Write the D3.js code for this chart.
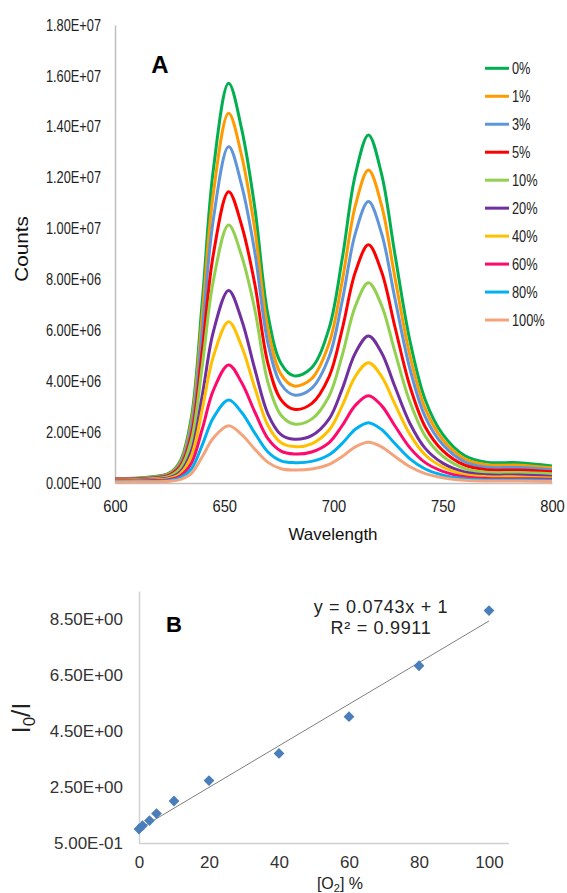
<!DOCTYPE html>
<html>
<head>
<meta charset="utf-8">
<script src="https://cdn.jsdelivr.net/npm/d3@7"></script>
<style>
  body { margin: 0; background: #fff; }
  svg { display: block; font-family: "Liberation Sans", Arial, sans-serif; }
</style>
</head>
<body>
<svg id="chart" width="567" height="893"></svg>
<script>
// ---- Panel A: emission spectra (counts in units of 1e6) ----
const wavelengths = [600, 615, 625, 630, 635, 640, 645, 652, 658, 664, 670, 676, 682, 690, 698, 704, 710, 716, 722, 728, 735, 742, 750, 760, 770, 785, 800];

const o2_0   = [.18, .23, .40, .89, 2.60, 7.20, 12.31, 15.71, 13.90, 10.81, 6.61, 4.70, 4.21, 4.53, 6.09, 8.82, 12.12, 13.68, 12.14, 9.05, 5.58, 3.26, 1.91, 1.08, .82, .80, .67];
const o2_1   = [.17, .21, .37, .83, 2.41, 6.66, 11.38, 14.53, 12.85, 9.96, 6.05, 4.27, 3.81, 4.10, 5.49, 7.94, 10.90, 12.30, 10.91, 8.13, 5.00, 2.92, 1.70, .95, .72, .70, .60];
const o2_3   = [.16, .20, .34, .76, 2.20, 6.06, 10.36, 13.22, 11.69, 9.06, 5.50, 3.88, 3.46, 3.72, 4.96, 7.16, 9.81, 11.06, 9.81, 7.30, 4.48, 2.60, 1.51, .83, .62, .61, .52];
const o2_5   = [.15, .18, .31, .67, 1.91, 5.26, 8.98, 11.45, 10.11, 7.81, 4.69, 3.27, 2.90, 3.12, 4.18, 6.05, 8.29, 9.36, 8.30, 6.18, 3.79, 2.20, 1.27, .70, .52, .51, .44];
const o2_10  = [.13, .16, .27, .59, 1.69, 4.65, 7.95, 10.14, 8.91, 6.81, 3.95, 2.66, 2.32, 2.51, 3.42, 5.02, 6.95, 7.87, 6.98, 5.19, 3.18, 1.84, 1.05, .57, .42, .41, .36];
const o2_20  = [.11, .13, .21, .45, 1.27, 3.48, 5.94, 7.57, 6.40, 4.47, 2.71, 1.90, 1.72, 1.86, 2.52, 3.70, 5.11, 5.78, 5.12, 3.81, 2.34, 1.36, .78, .43, .32, .31, .26];
const o2_40  = [.09, .11, .18, .38, 1.07, 2.92, 4.97, 6.34, 5.36, 3.74, 2.26, 1.58, 1.43, 1.54, 2.08, 3.04, 4.19, 4.73, 4.19, 3.12, 1.91, 1.10, .63, .34, .25, .24, .20];
const o2_60  = [.08, .09, .14, .29, .79, 2.14, 3.64, 4.64, 3.94, 2.79, 1.74, 1.25, 1.14, 1.22, 1.59, 2.26, 3.05, 3.43, 3.04, 2.26, 1.38, .80, .46, .25, .18, .17, .15];
const o2_80  = [.06, .07, .10, .21, .56, 1.51, 2.56, 3.26, 2.77, 1.96, 1.22, .87, .80, .85, 1.11, 1.56, 2.11, 2.37, 2.10, 1.56, .95, .55, .31, .17, .12, .12, .10];
const o2_100 = [.04, .05, .07, .14, .38, 1.04, 1.77, 2.25, 1.90, 1.33, .81, .56, .51, .55, .73, 1.04, 1.42, 1.60, 1.42, 1.05, .64, .37, .21, .11, .08, .08, .06];

const seriesLabels = ["0%", "1%", "3%", "5%", "10%", "20%", "40%", "60%", "80%", "100%"];
const seriesColors = ["#00B050", "#FF9A00", "#5F95DA", "#FF0000", "#92D050", "#7030A0", "#FFC000", "#FF0A6C", "#00B0F0", "#F4A47C"];
const seriesValues = [o2_0, o2_1, o2_3, o2_5, o2_10, o2_20, o2_40, o2_60, o2_80, o2_100];

const waveTicks = [600, 650, 700, 750, 800];
const countTicks = [0, 2e6, 4e6, 6e6, 8e6, 1e7, 1.2e7, 1.4e7, 1.6e7, 1.8e7];

// ---- Panel B: Stern-Volmer plot ----
const o2Percent = [0, 1, 3, 5, 10, 20, 40, 60, 80, 100];
const intensityRatio = [1.0, 1.12, 1.3, 1.55, 2.0, 2.73, 3.7, 5.01, 6.83, 8.8];
const fitSlope = 0.0743, fitIntercept = 1;
const o2Ticks = [0, 20, 40, 60, 80, 100];
const ratioTicks = [0.5, 2.5, 4.5, 6.5, 8.5];

// Excel style scientific label, e.g. 1.80E+07
function sci(v) {
    const parts = d3.format(".2e")(v).split("e");
    const exp = parts[1];
    return parts[0] + "E" + exp[0] + exp.slice(1).padStart(2, "0");
}

const svg = d3.select("#chart");
const axisGray = "#BFBFBF";

// ================= Panel A =================
const x = d3.scaleLinear().domain([600, 800]).range([115, 552]);
const y = d3.scaleLinear().domain([0, 1.8e7]).range([483, 25]);

// Y axis
const yAx = svg.append("g")
    .attr("transform", `translate(${x(600)},0)`)
    .call(d3.axisLeft(y).tickValues(countTicks).tickFormat(sci).tickSize(0).tickSizeOuter(0).tickPadding(17.5));
yAx.select(".domain").attr("stroke", axisGray).attr("stroke-width", 1.5);
yAx.selectAll("text")
    .attr("font-size", 16).attr("fill", "#222")
    .attr("font-family", "Liberation Sans, Arial, sans-serif")
    .attr("transform", "scale(0.8,1)");

// X axis
const xAx = svg.append("g")
    .attr("transform", `translate(0,${y(0)})`)
    .call(d3.axisBottom(x).tickValues(waveTicks).tickSize(0).tickSizeOuter(0).tickPadding(18));
xAx.select(".domain").attr("stroke", axisGray).attr("stroke-width", 1.5);
xAx.selectAll("text")
    .attr("font-size", 16).attr("fill", "#222")
    .attr("font-family", "Liberation Sans, Arial, sans-serif")
    .attr("transform", "scale(0.92,1)");

// Spectra lines
const line = d3.line()
    .x((d, i) => x(wavelengths[i]))
    .y(d => y(d * 1e6))
    .curve(d3.curveCatmullRom.alpha(0.5));

svg.append("g")
    .selectAll("path")
    .data(seriesValues)
    .enter()
    .append("path")
    .attr("d", d => line(d))
    .attr("fill", "none")
    .attr("stroke", (d, i) => seriesColors[i])
    .attr("stroke-width", 3)
    .attr("stroke-linejoin", "round");

// Legend
const legend = svg.append("g");
seriesLabels.forEach((lab, i) => {
    const ly = 68.3 + i * 27.97;
    legend.append("line")
        .attr("x1", 485).attr("x2", 509)
        .attr("y1", ly).attr("y2", ly)
        .attr("stroke", seriesColors[i])
        .attr("stroke-width", 3);
    legend.append("text")
        .attr("transform", `translate(512,${ly}) scale(0.8,1)`)
        .attr("dy", "0.36em")
        .attr("font-size", 16)
        .attr("fill", "#222")
        .text(lab);
});

// Titles
svg.append("text")
    .attr("x", 333).attr("y", 540)
    .attr("text-anchor", "middle")
    .attr("font-size", 17).attr("fill", "#111")
    .text("Wavelength");

svg.append("text")
    .attr("transform", "translate(28,249) rotate(-90) scale(1.15,1)")
    .attr("text-anchor", "middle")
    .attr("font-size", 18).attr("fill", "#111")
    .text("Counts");

svg.append("text")
    .attr("x", 160).attr("y", 73)
    .attr("text-anchor", "middle")
    .attr("font-size", 24).attr("font-weight", "bold")
    .text("A");

// ================= Panel B =================
const x2 = d3.scaleLinear().domain([0, 105.5]).range([139, 508.25]);
const y2 = d3.scaleLinear().domain([0.5, 9.5]).range([843, 591]);
const gray2 = "#D0D0D0";

const y2Ax = svg.append("g")
    .attr("transform", `translate(${x2(0)},0)`)
    .call(d3.axisLeft(y2).tickValues(ratioTicks).tickFormat(sci).tickSize(0).tickSizeOuter(0).tickPadding(16));
y2Ax.select(".domain").attr("stroke", gray2).attr("stroke-width", 1.5);
y2Ax.selectAll("text")
    .attr("font-size", 17).attr("fill", "#333")
    .attr("font-family", "Liberation Sans, Arial, sans-serif");

const x2Ax = svg.append("g")
    .attr("transform", `translate(0,${y2(0.5)})`)
    .call(d3.axisBottom(x2).tickValues(o2Ticks).tickSize(0).tickSizeOuter(0).tickPadding(13));
x2Ax.select(".domain").attr("stroke", gray2).attr("stroke-width", 1.5);
x2Ax.selectAll("text")
    .attr("font-size", 17).attr("fill", "#333")
    .attr("font-family", "Liberation Sans, Arial, sans-serif");

// Linear trendline
const fitX = [0, 100];
svg.append("line")
    .attr("x1", x2(fitX[0])).attr("y1", y2(fitIntercept + fitSlope * fitX[0]))
    .attr("x2", x2(fitX[1])).attr("y2", y2(fitIntercept + fitSlope * fitX[1]))
    .attr("stroke", "#7F7F7F")
    .attr("stroke-width", 1);

// Diamond markers
const diamond = d3.symbol().type(d3.symbolSquare).size(58);
svg.append("g")
    .selectAll("path")
    .data(o2Percent)
    .enter()
    .append("path")
    .attr("d", diamond)
    .attr("transform", (d, i) => `translate(${x2(d)},${y2(intensityRatio[i])}) rotate(45)`)
    .attr("fill", "#4A7EBB");

// Equation text
svg.append("text")
    .attr("x", 381).attr("y", 613)
    .attr("text-anchor", "middle")
    .attr("font-size", 18).attr("letter-spacing", 0.7).attr("fill", "#222")
    .text("y = 0.0743x + 1");
svg.append("text")
    .attr("x", 381).attr("y", 634)
    .attr("text-anchor", "middle")
    .attr("font-size", 18).attr("letter-spacing", 0.7).attr("fill", "#222")
    .text("R² = 0.9911");

// Axis titles
const xt = svg.append("text")
    .attr("x", 340).attr("y", 889)
    .attr("text-anchor", "middle")
    .attr("font-size", 16).attr("fill", "#222");
xt.append("tspan").text("[O");
xt.append("tspan").attr("font-size", 11).attr("dy", 3).text("2");
xt.append("tspan").attr("dy", -3).text("] %");

const yt = svg.append("text")
    .attr("transform", "translate(30,718) rotate(-90)")
    .attr("text-anchor", "middle")
    .attr("font-size", 26).attr("fill", "#222");
yt.append("tspan").text("I");
yt.append("tspan").attr("font-size", 17).attr("dy", 5).text("0");
yt.append("tspan").attr("dy", -5).text("/I");

svg.append("text")
    .attr("x", 174).attr("y", 632)
    .attr("text-anchor", "middle")
    .attr("font-size", 22).attr("font-weight", "bold")
    .text("B");
</script>
</body>
</html>
